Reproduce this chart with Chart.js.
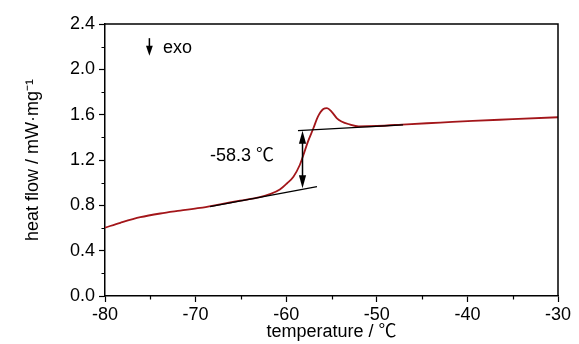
<!DOCTYPE html>
<html><head><meta charset="utf-8">
<script src="https://cdn.jsdelivr.net/npm/chart.js@4"></script>
<style>html,body{margin:0;padding:0;background:#fff}canvas{display:block}</style>
</head><body>
<canvas id="c" width="579" height="344" style="width:579px;height:344px"></canvas>
<script>
const temperature = [-80, -78.3, -76.1, -73.9, -71.7, -69.5, -67.3, -65.1, -62.9, -61.8, -60.7, -59.9, -59.2, -58.5, -58.1, -57.6, -57.0, -56.5, -55.9, -55.5, -55.0, -54.4, -53.9, -53.0, -52.0, -50.0, -46.7, -43.0, -39.4, -35.0, -30.0];
const heatFlow    = [0.603, 0.646, 0.695, 0.728, 0.753, 0.777, 0.809, 0.841, 0.873, 0.899, 0.940, 0.995, 1.053, 1.156, 1.245, 1.362, 1.480, 1.583, 1.650, 1.658, 1.627, 1.568, 1.540, 1.514, 1.497, 1.500, 1.515, 1.530, 1.545, 1.560, 1.577];
const xTickValues = [-80, -70, -60, -50, -40, -30];
const xMinorTicks = [-75, -65, -55, -45, -35];
const yTickValues = [0, 0.4, 0.8, 1.2, 1.6, 2.0, 2.4];
const yMinorTicks = [0.2, 0.6, 1.0, 1.4, 1.8, 2.2];
const lowerTangentT = [-68.4, -56.6];
const lowerTangentV = [0.789, 0.965];
const upperTangentT = [-58.7, -47.1];
const upperTangentV = [1.459, 1.510];
const stepT = -58.2, stepLow = 0.950, stepHigh = 1.459;
const stepLabel = '-58.3 ℃';
const stepLabelPos = [-68.4, 1.236];
const exoArrow = [-75.1, 2.275, 2.12];
const exoLabel = 'exo';
const exoLabelPos = [-73.6, 2.19];

const FONT = "'Liberation Sans Narrow', 'Arial Narrow', 'Liberation Sans', 'Noto Sans CJK SC', sans-serif";
const FS = 18;

function pts(xs, ys) { return xs.map((x, i) => ({x: x, y: ys[i]})); }

function arrowHead(ctx, x, y, dir, hw, h) { // dir: -1 up, +1 down
  ctx.beginPath();
  ctx.moveTo(x, y);
  ctx.lineTo(x - hw, y - dir * h);
  ctx.lineTo(x + hw, y - dir * h);
  ctx.closePath();
  ctx.fill();
}

const decor = {
  id: 'decor',
  afterDraw(chart) {
    const ctx = chart.ctx, xs = chart.scales.x, ys = chart.scales.y, a = chart.chartArea;
    ctx.save();
    ctx.strokeStyle = '#000'; ctx.fillStyle = '#000';
    // frame top/right
    ctx.lineWidth = 1.5;
    ctx.beginPath();
    ctx.moveTo(a.left, a.top); ctx.lineTo(a.right, a.top); ctx.lineTo(a.right, a.bottom);
    ctx.stroke();
    // minor ticks
    ctx.lineWidth = 1.2;
    ctx.beginPath();
    xMinorTicks.forEach(v => { const p = Math.round(xs.getPixelForValue(v)) + 0.5; ctx.moveTo(p, a.bottom); ctx.lineTo(p, a.bottom + 3.5); });
    yMinorTicks.forEach(v => { const p = Math.round(ys.getPixelForValue(v)) + 0.5; ctx.moveTo(a.left, p); ctx.lineTo(a.left - 3.5, p); });
    ctx.stroke();
    // step arrow
    const sx = xs.getPixelForValue(stepT);
    const yTop = ys.getPixelForValue(stepHigh), yBot = ys.getPixelForValue(stepLow);
    ctx.lineWidth = 1.5;
    ctx.beginPath(); ctx.moveTo(sx, yTop + 8); ctx.lineTo(sx, yBot - 8); ctx.stroke();
    arrowHead(ctx, sx, yTop, -1, 3.6, 13);
    arrowHead(ctx, sx, yBot, 1, 3.6, 13);
    // exo arrow
    const ex = xs.getPixelForValue(exoArrow[0]);
    const e1 = ys.getPixelForValue(exoArrow[1]), e2 = ys.getPixelForValue(exoArrow[2]);
    ctx.lineWidth = 1.5;
    ctx.beginPath(); ctx.moveTo(ex, e1); ctx.lineTo(ex, e2 - 6); ctx.stroke();
    arrowHead(ctx, ex, e2, 1, 3.4, 10);
    // texts
    ctx.font = FS + 'px ' + FONT;
    ctx.textAlign = 'left'; ctx.textBaseline = 'middle';
    ctx.fillText(stepLabel, xs.getPixelForValue(stepLabelPos[0]), ys.getPixelForValue(stepLabelPos[1]));
    ctx.fillText(exoLabel, xs.getPixelForValue(exoLabelPos[0]), ys.getPixelForValue(exoLabelPos[1]));
    ctx.restore();
  }
};

new Chart(document.getElementById('c'), {
  type: 'scatter',
  data: {
    datasets: [
      { data: pts(lowerTangentT, lowerTangentV), showLine: true, borderColor: '#000', borderWidth: 1.4, pointRadius: 0, order: 0 },
      { data: pts(upperTangentT, upperTangentV), showLine: true, borderColor: '#000', borderWidth: 1.4, pointRadius: 0, order: 0 },
      { data: pts(temperature, heatFlow), showLine: true, borderColor: '#a3161a', borderWidth: 1.8, pointRadius: 0, cubicInterpolationMode: 'monotone', order: 1 }
    ]
  },
  options: {
    responsive: false, animation: false, devicePixelRatio: 1,
    layout: { padding: { left: 0, top: 24, right: 21, bottom: 0 } },
    plugins: { legend: { display: false }, tooltip: { enabled: false } },
    scales: {
      x: {
        type: 'linear', min: -80, max: -30,
        afterBuildTicks: s => { s.ticks = xTickValues.map(v => ({ value: v })); },
        afterFit: s => { s.height = 48; },
        border: { display: true, color: '#000', width: 1.5 },
        grid: { drawOnChartArea: false, drawTicks: true, tickLength: 6, color: '#000', tickWidth: 1.2 },
        ticks: { color: '#000', font: { family: FONT, size: FS }, padding: 2, maxRotation: 0, autoSkip: false, callback: v => String(v) },
        title: { display: true, text: 'temperature / ℃', color: '#000', font: { family: FONT, size: FS }, padding: { top: 0, bottom: 1 } }
      },
      y: {
        type: 'linear', min: 0, max: 2.4,
        afterBuildTicks: s => { s.ticks = yTickValues.map(v => ({ value: v })); },
        afterFit: s => { s.width = 105; },
        border: { display: true, color: '#000', width: 1.5 },
        grid: { drawOnChartArea: false, drawTicks: true, tickLength: 6, color: '#000', tickWidth: 1.2 },
        ticks: { color: '#000', font: { family: FONT, size: FS }, padding: 4, autoSkip: false, callback: v => Number(v).toFixed(1) },
        title: { display: true, text: 'heat flow / mW·mg⁻¹', color: '#000', font: { family: FONT, size: FS }, padding: { top: 22, bottom: 0 } }
      }
    }
  },
  plugins: [decor]
});
</script>
</body></html>
